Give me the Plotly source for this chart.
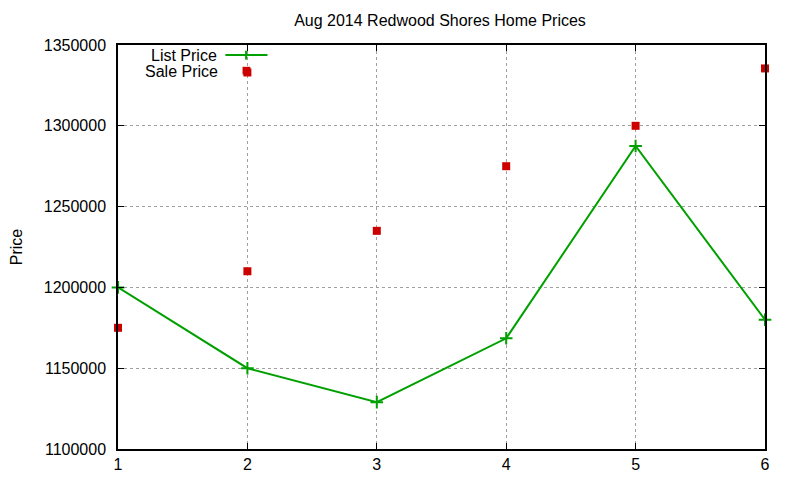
import plotly.graph_objects as go

days = [1, 2, 3, 4, 5, 6]
list_price = [1200000, 1150000, 1129000, 1168500, 1287500, 1180000]
sale_x = [1, 2, 2, 3, 4, 5, 6]
sale_price = [1175000, 1210000, 1333000, 1235000, 1275000, 1300000, 1335500]
x_ticks = [1, 2, 3, 4, 5, 6]
y_ticks = [1100000, 1150000, 1200000, 1250000, 1300000, 1350000]

GREEN = "#00a000"
RED = "#cc0000"
FONT = "Liberation Sans, Arial, sans-serif"

fig = go.Figure()
fig.add_trace(go.Scatter(
    x=days, y=list_price, mode="lines+markers", name="List Price",
    line=dict(color=GREEN, width=2),
    marker=dict(symbol="cross-thin", size=9, line=dict(color=GREEN, width=2)),
    cliponaxis=False, showlegend=False))
fig.add_trace(go.Scatter(
    x=sale_x, y=sale_price, mode="markers", name="Sale Price",
    marker=dict(symbol="square", size=8, color=RED),
    cliponaxis=False, showlegend=False))

axis_common = dict(
    showline=True, linecolor="black", linewidth=1.5, mirror="ticks",
    ticks="inside", ticklen=6, tickcolor="black",
    showgrid=True, gridcolor="#a0a0a0", griddash="dot", gridwidth=1,
    zeroline=False, automargin=False,
    tickfont=dict(size=16, color="black", family=FONT),
)
fig.update_xaxes(range=[1, 6], tickvals=x_ticks, ticklabelstandoff=0, **axis_common)
fig.update_yaxes(range=[1100000, 1350000], tickvals=y_ticks,
                 ticktext=[str(v) for v in y_ticks], ticklabelstandoff=7,
                 title=dict(text="Price", font=dict(size=16, family=FONT, color="black"), standoff=22),
                 **axis_common)

# manual gnuplot-style key (text right-aligned, sample to the right)
fig.add_annotation(xref="paper", yref="paper", x=0.156, y=0.974, xanchor="right", yanchor="middle",
                   text="List Price", showarrow=False, font=dict(size=16, family=FONT, color="black"))
fig.add_annotation(xref="paper", yref="paper", x=0.157, y=0.934, xanchor="right", yanchor="middle",
                   text="Sale Price", showarrow=False, font=dict(size=16, family=FONT, color="black"))
fig.add_shape(type="line", xref="paper", yref="paper", x0=0.166, x1=0.231, y0=0.975, y1=0.975,
              line=dict(color=GREEN, width=2))
fig.add_shape(type="line", xref="paper", yref="paper", x0=0.198, x1=0.198, y0=0.964, y1=0.986,
              line=dict(color=GREEN, width=2))
fig.add_shape(type="rect", xref="paper", yref="paper", x0=0.1925, x1=0.2045, y0=0.927, y1=0.946,
              line=dict(width=0), fillcolor=RED)

fig.update_layout(
    width=800, height=480,
    margin=dict(l=110, r=43, t=37, b=39),
    paper_bgcolor="white", plot_bgcolor="white",
    title=dict(text="Aug 2014 Redwood Shores Home Prices", x=0.54, xanchor="center",
               y=0.975, yanchor="middle", font=dict(size=16, family=FONT, color="black")),
    font=dict(family=FONT, color="black"),
)

fig.write_html("out.html")
